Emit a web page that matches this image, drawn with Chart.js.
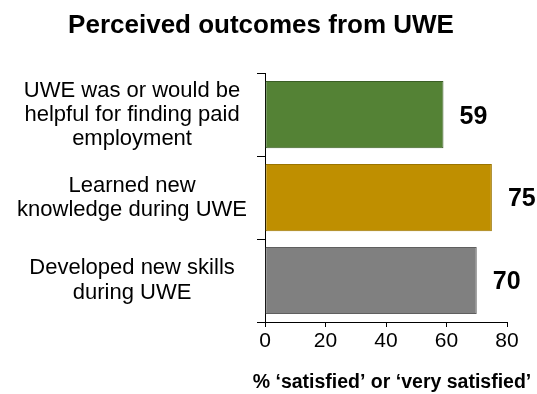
<!DOCTYPE html>
<html lang="en">
<head>
    <meta charset="UTF-8">
    <title>Perceived outcomes from UWE</title>
    <style>
        body {
          margin: 0;
          background: #fff;
        }
        #wrap {
          width: 537px;
          height: 394px;
        }
    </style>
    <script src="https://cdn.jsdelivr.net/npm/chart.js"></script>
</head>
<body>
  <div id="wrap"><canvas id="chart"></canvas></div>
  <script>
    // data
    const categories = [
        ['UWE was or would be', 'helpful for finding paid', 'employment'],
        ['Learned new', 'knowledge during UWE'],
        ['Developed new skills', 'during UWE']
    ];
    const values = [59, 75, 70];
    const barColors = ['#548235', '#BF8F00', '#808080'];
    const barBorders = ['#3B5E25', '#9A7400', '#5F5F5F'];
    const xTicks = [0, 20, 40, 60, 80];
    const xTitle = '% \u2018satisfied\u2019 or \u2018very satisfied\u2019';

    const fontName = "'Liberation Sans', Arial, sans-serif";

    // numbers next to the bars + the x axis title (the built-in one gets squeezed to the axis width)
    const extraText = {
        id: 'extraText',
        afterDraw(chart) {
            const c = chart.ctx;
            const meta = chart.getDatasetMeta(0);
            c.save();
            c.fillStyle = '#000';
            c.font = 'bold 25px ' + fontName;
            c.textAlign = 'left';
            c.textBaseline = 'middle';
            meta.data.forEach((bar, i) => {
                c.fillText(String(values[i]), bar.x + 16, bar.y + 2);
            });
            const x = chart.scales.x;
            c.font = 'bold 19.5px ' + fontName;
            c.textAlign = 'center';
            c.fillText(xTitle, (x.left + x.right) / 2 + 6, 383);
            c.restore();
        }
    };

    const ctx = document.getElementById('chart').getContext('2d');
    const chart = new Chart(ctx, {
        type: 'bar',
        data: {
            labels: categories,
            datasets: [{
                data: values,
                backgroundColor: barColors,
                borderColor: barBorders,
                borderWidth: 1,
                borderSkipped: false,
                barPercentage: 0.81,
                categoryPercentage: 1
            }]
        },
        options: {
            indexAxis: 'y',
            responsive: true,
            maintainAspectRatio: false,
            animation: false,
            layout: { padding: { top: 0, right: 30, bottom: 0, left: 15 } },
            plugins: {
                legend: { display: false },
                tooltip: { enabled: false },
                title: {
                    display: true,
                    text: 'Perceived outcomes from UWE',
                    color: '#000',
                    font: { family: fontName, size: 26, weight: 'bold', lineHeight: 1.2 },
                    padding: { top: 10, bottom: 32 }
                }
            },
            scales: {
                x: {
                    min: 0,
                    max: 80,
                    afterFit(scale) { scale.height = 72; },
                    afterBuildTicks(scale) {
                        scale.ticks = xTicks.map(v => ({ value: v }));
                    },
                    border: { display: true, color: '#000', width: 1 },
                    grid: {
                        drawOnChartArea: false,
                        drawTicks: true,
                        tickLength: 5,
                        color: '#000'
                    },
                    ticks: {
                        color: '#000',
                        padding: 2,
                        font: { family: fontName, size: 21 }
                    }
                },
                y: {
                    afterFit(scale) { scale.width = 250; },
                    border: { display: true, color: '#000', width: 1 },
                    grid: {
                        drawOnChartArea: false,
                        drawTicks: true,
                        tickLength: 8,
                        offset: true,
                        color: '#000'
                    },
                    ticks: {
                        color: '#000',
                        crossAlign: 'center',
                        padding: 10,
                        font: { family: fontName, size: 22, lineHeight: 1.1 }
                    }
                }
            }
        },
        plugins: [extraText]
    });
  </script>
</body>
</html>
